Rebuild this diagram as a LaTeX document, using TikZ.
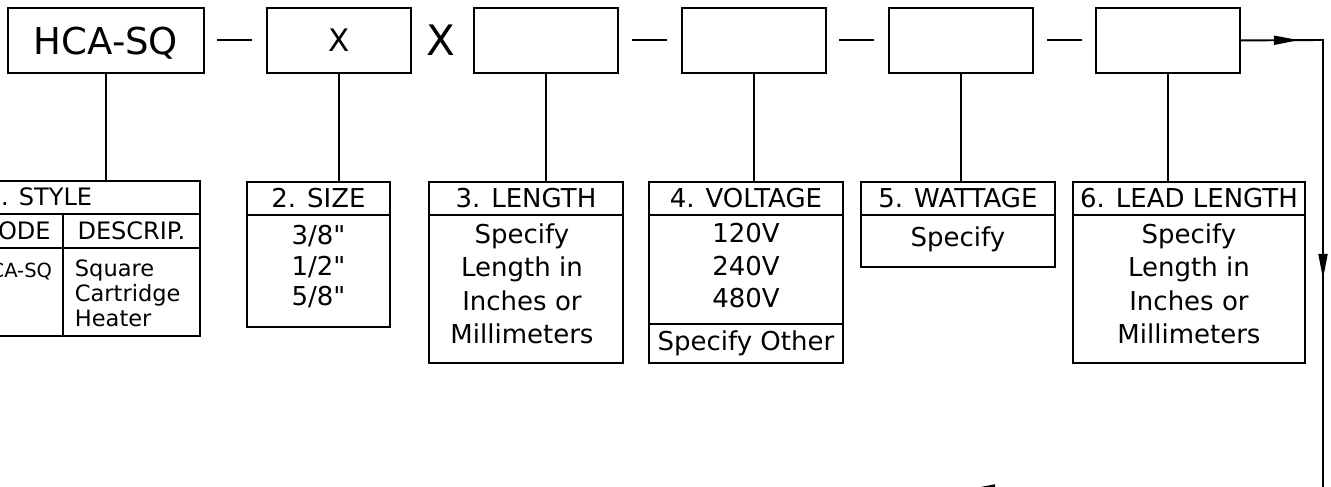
\documentclass[tikz,border=0pt]{standalone}
\usepackage{fontspec}
\setmainfont{DejaVu Sans}[Ligatures=TeXOff]
\usetikzlibrary{arrows.meta,decorations.markings}

\newcommand*{\hdrtop}{181}
\newcommand*{\bodytop}{214}
\newcommand*{\tabfont}{\fontsize{26}{33.5}\selectfont}
\newcommand*{\flowtip}{\arrow{Triangle[length=25pt,width=9pt]}}

\begin{document}
\begin{tikzpicture}
[
	x=1pt,
	y=-1pt,
	line width=1.9pt,
	codebox/.style={draw,inner sep=0pt,minimum width=144pt,minimum height=65pt,text depth=0pt,anchor=north west},
	hdrbox/.style={draw,inner sep=0pt,minimum height=33pt,anchor=north west,font=\tabfont},
	bodybox/.style={draw,inner sep=0pt,anchor=north west},
	bodytext/.style={inner sep=0pt,align=center,font=\tabfont}
]

	\useasboundingbox (0,0) rectangle (1331,487);

	% part number boxes
	\node[codebox,minimum width=196pt,font=\fontsize{37}{40}\selectfont] (hca) at (7,7) {HCA-SQ};
	\node[codebox,font=\fontsize{31}{33}\selectfont] (size) at (266,7) {X};
	\node[codebox] (length) at (473,7) {};
	\node[codebox] (voltage) at (681,7) {};
	\node[codebox] (wattage) at (888,7) {};
	\node[codebox] (lead) at (1095,7) {};

	\node[font=\fontsize{42}{44}\selectfont] (times) at (441,40) {X};
	\foreach \xa in {217,632,839,1047}
		\draw (\xa,40) -- ++(35,0);

	% 1. style
	\node[hdrbox,minimum width=231pt] (stylehdr) at (-32,180) {};
	\node[anchor=west,inner sep=0pt,font=\fontsize{24}{26}\selectfont] (styletitle) at (-15,196.5) {1. STYLE};
	\node[hdrbox,minimum width=94pt,minimum height=34pt,font=\fontsize{24}{26}\selectfont] (codehdr) at (-32,213) {CODE};
	\node[hdrbox,minimum width=137pt,minimum height=34pt,font=\fontsize{24}{26}\selectfont] (deschdr) at (62,213) {DESCRIP.};
	\node[bodybox,minimum width=94pt,minimum height=88pt] (codecol) at (-32,247) {};
	\node[bodybox,minimum width=137pt,minimum height=88pt] (desccol) at (62,247) {};
	\node[anchor=base,inner sep=0pt,font=\fontsize{19.5}{20}\selectfont] (codetext) at (14,277) {HCA-SQ};
	\node[anchor=north west,inner sep=0pt,align=left,font=\fontsize{22.5}{25}\selectfont] (desctext) at (74,259) {Square\\Cartridge\\Heater};

	% 2. size
	\node[hdrbox,minimum width=143pt] (sizehdr) at (246,\hdrtop) {2. SIZE};
	\node[bodybox,minimum width=143pt,minimum height=112pt] (sizebody) at (246,\bodytop) {};
	\node[bodytext,font=\fontsize{26}{30.5}\selectfont] (sizetext) at ([yshift=4pt]sizebody.center) {3/8"\\1/2"\\5/8"};

	% 3. length
	\node[hdrbox,minimum width=194pt] (lengthhdr) at (428,\hdrtop) {3. LENGTH};
	\node[bodybox,minimum width=194pt,minimum height=148pt] (lengthbody) at (428,\bodytop) {};
	\node[bodytext] (lengthtext) at ([xshift=-4pt,yshift=5pt]lengthbody.center) {Specify\\Length in\\Inches or\\Millimeters};

	% 4. voltage
	\node[hdrbox,minimum width=194pt] (voltagehdr) at (648,\hdrtop) {4. VOLTAGE};
	\node[bodybox,minimum width=194pt,minimum height=109pt] (voltagebody) at (648,\bodytop) {};
	\node[bodytext,font=\fontsize{26}{32.5}\selectfont] (voltagetext) at ([yshift=3.5pt]voltagebody.center) {120V\\240V\\480V};
	\node[bodybox,minimum width=194pt,minimum height=39pt,font=\tabfont] (voltageother) at (648,323) {Specify Other};

	% 5. wattage
	\node[hdrbox,minimum width=194pt] (wattagehdr) at (860,\hdrtop) {5. WATTAGE};
	\node[bodybox,minimum width=194pt,minimum height=52pt] (wattagebody) at (860,\bodytop) {};
	\node[bodytext] (wattagetext) at ([yshift=2pt]wattagebody.center) {Specify};

	% 6. lead length
	\node[hdrbox,minimum width=232pt] (leadhdr) at (1072,\hdrtop) {6. LEAD LENGTH};
	\node[bodybox,minimum width=232pt,minimum height=148pt] (leadbody) at (1072,\bodytop) {};
	\node[bodytext] (leadtext) at ([yshift=5pt]leadbody.center) {Specify\\Length in\\Inches or\\Millimeters};

	\foreach \pn/\tab in {hca/stylehdr,size/sizehdr,length/lengthhdr,voltage/voltagehdr,wattage/wattagehdr,lead/leadhdr}
		\draw (\pn.south) -- (\pn.south |- \tab.north);

	% flow on to the next row
	\coordinate (turn) at (1323,40);
	\coordinate (turnlow) at (1323,489);
	\coordinate (flowend) at (900,489);
	\draw[postaction={decorate},decoration={markings,
		mark=at position 58pt with {\flowtip},
		mark=at position 321pt with {\flowtip},
		mark=at position 884pt with {\flowtip}}]
		(lead.east) -- (turn) -- (turnlow) -- (flowend);

\end{tikzpicture}
\end{document}
